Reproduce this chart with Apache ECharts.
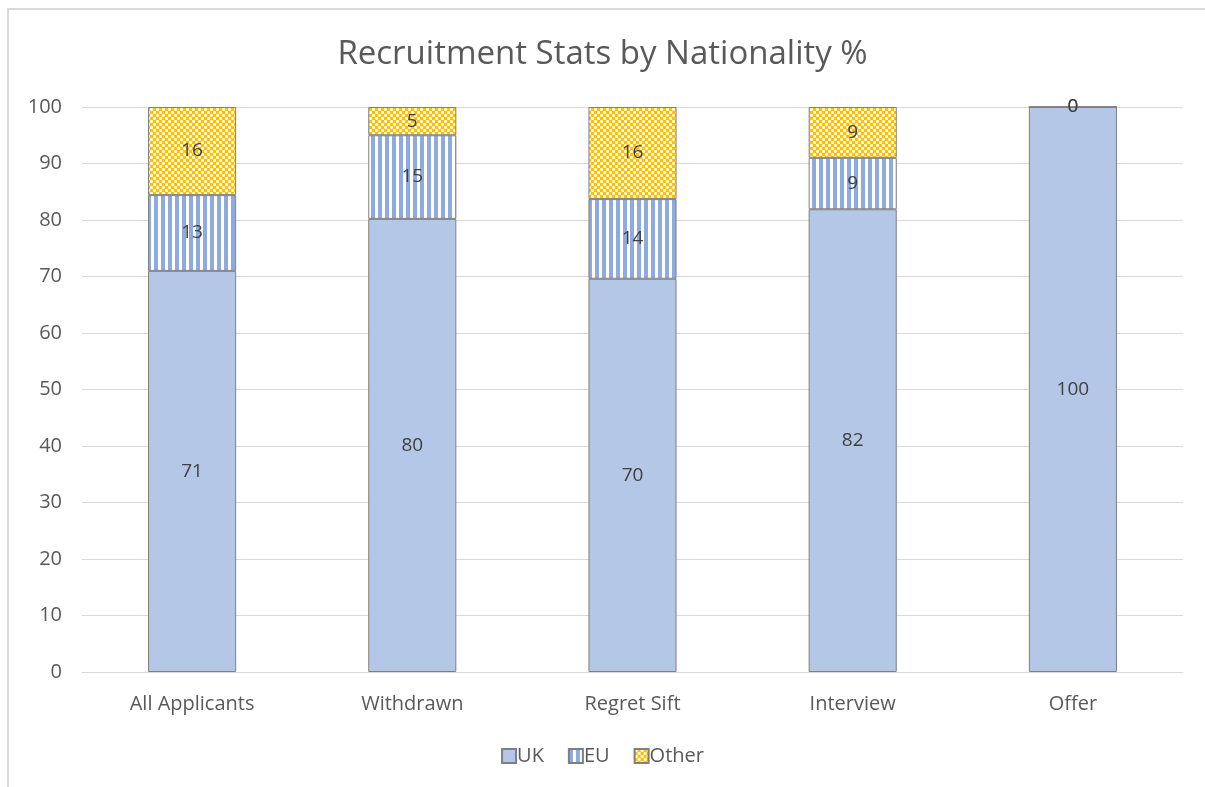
<!DOCTYPE html>
<html>
<head>
<meta charset="utf-8">
<script src="https://cdn.jsdelivr.net/npm/echarts@6/dist/echarts.min.js"></script>
<style>
  html, body { margin: 0; padding: 0; background: #fff; overflow: hidden; }
  #frame {
    position: absolute; left: 7px; top: 8px; width: 1300px; height: 900px;
    border-left: 2px solid #d9d9d9; border-top: 2px solid #d9d9d9;
  }
  #chart { position: absolute; left: 0; top: 0; width: 1205px; height: 787px; }
</style>
</head>
<body>
<div id="frame"></div>
<div id="chart"></div>
<script>
const stages = ['All Applicants', 'Withdrawn', 'Regret Sift', 'Interview', 'Offer'];
const ukShare = [71.0, 80.2, 69.6, 81.9, 100];
const euShare = [13.4, 14.8, 14.1, 9.1, 0];
const otherShare = [15.6, 5.0, 16.3, 9.0, 0];

// excel-style pattern fills
function stripeTile() {
  const c = document.createElement('canvas');
  c.width = 7; c.height = 4;
  const ctx = c.getContext('2d');
  ctx.fillStyle = '#ffffff';
  ctx.fillRect(0, 0, 7, 4);
  ctx.fillStyle = '#8faadc';
  ctx.fillRect(0, 0, 4, 4);
  return c;
}
function confettiTile() {
  const c = document.createElement('canvas');
  c.width = 6; c.height = 6;
  const ctx = c.getContext('2d');
  ctx.fillStyle = '#ffc000';
  ctx.fillRect(0, 0, 6, 6);
  [[1, 1], [4, 4]].forEach(([x, y]) => {
    ctx.fillStyle = '#ffe9a8';
    ctx.fillRect(x - 1, y - 1, 3, 3);
    ctx.fillStyle = '#ffffff';
    ctx.fillRect(x, y - 1, 1, 3);
    ctx.fillRect(x - 1, y, 3, 1);
  });
  return c;
}

const font = '"Open Sans", "Liberation Sans", sans-serif';
const txt = '#595959';

const label = {
  show: true,
  position: 'inside',
  color: '#404040',
  fontSize: 19,
  fontFamily: font,
  formatter: p => Math.round(p.value)
};
const border = { borderColor: '#7f7f7f', borderWidth: 1 };

const chart = echarts.init(document.getElementById('chart'));
chart.setOption({
  animation: false,
  title: {
    text: 'Recruitment Stats by Nationality %',
    left: 'center',
    top: 33,
    textStyle: { color: txt, fontSize: 33, fontWeight: 'normal', fontFamily: font }
  },
  legend: {
    bottom: 16,
    left: 'center',
    icon: 'rect',
    itemWidth: 14,
    itemHeight: 14,
    itemGap: 24,
    textStyle: { color: txt, fontSize: 20, fontFamily: font, padding: [0, 0, 0, -4] },
    data: ['UK', 'EU', 'Other']
  },
  grid: { left: 82, right: 22, top: 107, bottom: 115 },
  xAxis: {
    type: 'category',
    data: stages,
    axisTick: { show: false },
    axisLine: { lineStyle: { color: '#d9d9d9', width: 1 } },
    axisLabel: { color: txt, fontSize: 20, fontFamily: font, margin: 22 }
  },
  yAxis: {
    type: 'value',
    min: 0,
    max: 100,
    interval: 10,
    axisLine: { show: false },
    axisTick: { show: false },
    splitLine: { lineStyle: { color: '#d9d9d9', width: 1 } },
    axisLabel: { color: txt, fontSize: 20, fontFamily: font, margin: 20 }
  },
  series: [
    {
      name: 'UK', type: 'bar', stack: 'all', barWidth: '40%',
      data: ukShare, label,
      itemStyle: Object.assign({ color: '#b4c7e7' }, border)
    },
    {
      name: 'EU', type: 'bar', stack: 'all',
      data: euShare, label,
      itemStyle: Object.assign({ color: { image: stripeTile(), repeat: 'repeat' } }, border)
    },
    {
      name: 'Other', type: 'bar', stack: 'all',
      data: otherShare, label,
      itemStyle: Object.assign({ color: { image: confettiTile(), repeat: 'repeat' } }, border)
    }
  ]
});
</script>
</body>
</html>
